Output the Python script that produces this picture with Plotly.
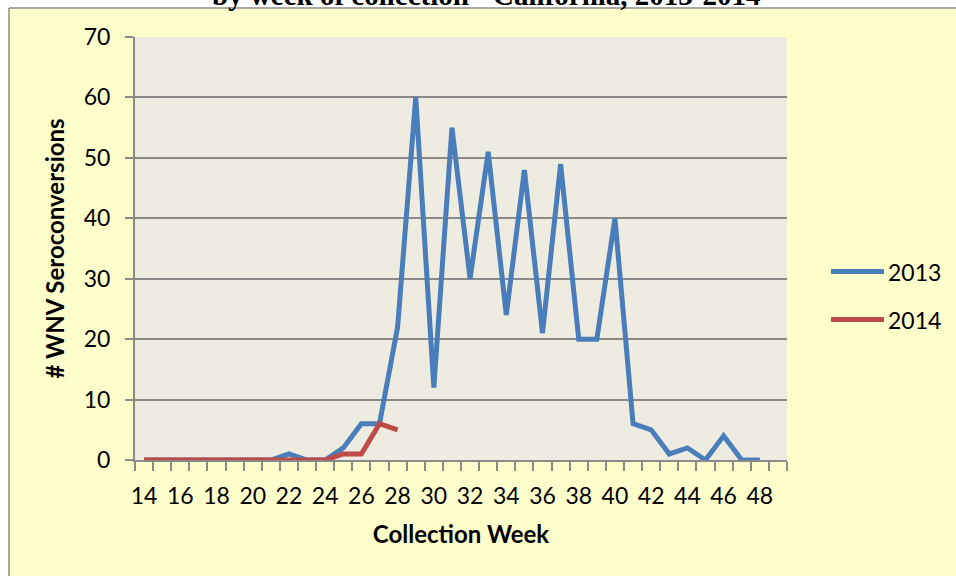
import plotly.graph_objects as go

weeks_2013 = list(range(14, 49))
values_2013 = [0, 0, 0, 0, 0, 0, 0, 0, 1, 0, 0, 2, 6, 6, 22, 60, 12, 55, 30, 51,
               24, 48, 21, 49, 20, 20, 40, 6, 5, 1, 2, 0, 4, 0, 0]
weeks_2014 = list(range(14, 29))
values_2014 = [0, 0, 0, 0, 0, 0, 0, 0, 0, 0, 0, 1, 1, 6, 5]
x_tick_vals = list(range(14, 49, 2))
x_tick_text = [str(v) for v in x_tick_vals]
series_names = ["2013", "2014"]
title_text = "by week of collection - California, 2013-2014"

BLUE = "#4A7EBB"
RED = "#BE4B48"
GRID = "#8A8A8A"
FONT = "Lato"

W, H = 956, 576
L, R, T, B = 135, 787, 37, 460
pw, ph = R - L, B - T


def px(x):
    return (x - L) / pw


def py(y):
    return (B - y) / ph


fig = go.Figure()
fig.add_trace(go.Scatter(x=weeks_2013, y=values_2013, mode="lines", name=series_names[0],
                         line=dict(color=BLUE, width=5), showlegend=False))
fig.add_trace(go.Scatter(x=weeks_2014, y=values_2014, mode="lines", name=series_names[1],
                         line=dict(color=RED, width=5), showlegend=False))

shapes = []
# white strips outside the chart frame
shapes.append(dict(type="rect", xref="paper", yref="paper", x0=px(-5), x1=px(W + 5),
                   y0=py(8), y1=py(-5), fillcolor="white", line=dict(width=0), layer="below"))
shapes.append(dict(type="rect", xref="paper", yref="paper", x0=px(-5), x1=px(9),
                   y0=py(H + 5), y1=py(-5), fillcolor="white", line=dict(width=0), layer="below"))
# chart frame border
shapes.append(dict(type="line", xref="paper", yref="paper", x0=px(9), x1=px(W + 5),
                   y0=py(8), y1=py(8), line=dict(color="#8C8C8C", width=1.5)))
shapes.append(dict(type="line", xref="paper", yref="paper", x0=px(9), x1=px(9),
                   y0=py(8), y1=py(H + 5), line=dict(color="#8C8C8C", width=1.5)))
# manual legend lines
leg_y = [271.5, 319.5]
for name, col, yy in zip(series_names, [BLUE, RED], leg_y):
    shapes.append(dict(type="line", xref="paper", yref="paper", x0=px(831), x1=px(884),
                       y0=py(yy), y1=py(yy), line=dict(color=col, width=5)))

annotations = [
    dict(text="<b>" + title_text + "</b>", xref="paper", yref="paper", x=px(486), y=py(13),
         xanchor="center", yanchor="bottom", showarrow=False,
         font=dict(family="Liberation Serif", size=29, color="black")),
]
for name, yy in zip(series_names, leg_y):
    annotations.append(dict(text=name, xref="paper", yref="paper", x=px(886), y=py(yy),
                            xanchor="left", yanchor="middle", showarrow=False,
                            font=dict(family=FONT, size=23, color="black")))

fig.update_layout(
    width=W, height=H,
    margin=dict(l=L, r=W - R, t=T, b=H - B, pad=0),
    paper_bgcolor="#FFFFCC",
    plot_bgcolor="#EEECE1",
    font=dict(family=FONT, size=23, color="black"),
    shapes=shapes,
    annotations=annotations,
    showlegend=False,
    xaxis=dict(
        range=[13.5, 49.5], tickmode="array", tickvals=x_tick_vals, ticktext=x_tick_text,
        ticks="", showgrid=False, zeroline=False,
        showline=True, linecolor=GRID, linewidth=2,
        tickfont=dict(family=FONT, size=23),
        ticklabelstandoff=14,
        minor=dict(tickmode="array", tickvals=[13.5 + i for i in range(37)],
                   ticks="outside", ticklen=9, tickcolor=GRID, tickwidth=2, showgrid=False),
        title=dict(text="<b>Collection Week</b>", font=dict(family=FONT, size=24), standoff=19),
    ),
    yaxis=dict(
        range=[0, 70], tickmode="linear", tick0=0, dtick=10,
        ticks="outside", ticklen=8, tickcolor=GRID, tickwidth=2,
        showgrid=True, gridcolor=GRID, gridwidth=2, zeroline=False,
        showline=True, linecolor=GRID, linewidth=2,
        tickfont=dict(family=FONT, size=23),
        ticklabelstandoff=10,
        title=dict(text="<b># WNV Seroconversions</b>", font=dict(family=FONT, size=24), standoff=12),
    ),
)

fig.write_html("out.html", config={"displayModeBar": False},
               post_script="document.body.style.margin='0';document.body.style.overflow='hidden';")
